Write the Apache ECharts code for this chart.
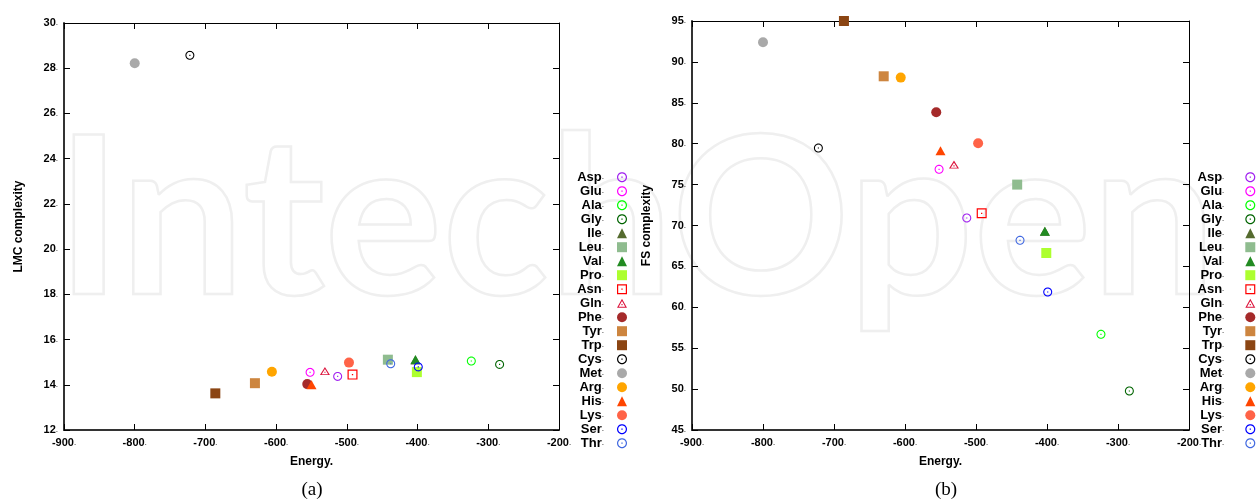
<!DOCTYPE html>
<html><head><meta charset="utf-8">
<script src="https://cdn.jsdelivr.net/npm/echarts@6/dist/echarts.min.js"></script>
<style>html,body{margin:0;padding:0;background:#fff}#c{width:1256px;height:502px}</style>
</head><body><div id="c"></div>
<script>
// ---------- data ----------
const names  = ['Asp','Glu','Ala','Gly','Ile','Leu','Val','Pro','Asn','Gln','Phe','Tyr','Trp','Cys','Met','Arg','His','Lys','Ser','Thr'];
const energy = [-513,-552,-324,-284,-403,-442,-403,-401,-492,-531,-556,-630,-686,-722,-800,-606,-550,-497,-399,-438];
const lmc    = [14.37,14.55,15.05,14.90,15.10,15.11,15.12,14.56,14.45,14.61,14.03,14.07,13.62,28.57,28.22,14.58,14.00,14.98,14.79,14.93];
const fs     = [70.92,76.87,56.70,49.77,69.30,75.00,69.29,66.64,71.49,77.45,83.84,88.24,95.00,79.47,92.40,88.08,79.15,80.05,61.87,68.19];
const xRange = [-900,-200,100];
const lmcRange = [12,30,2];
const fsRange = [45,95,5];

// ---------- styles ----------
const colors = ['#a020f0','#ff00ff','#00ff00','#006400','#556b2f','#8fbc8f','#228b22','#adff2f','#ff0000','#dc143c','#a52a2a','#cd853f','#8b4513','#000000','#a9a9a9','#ffa500','#ff4500','#ff6347','#0000ff','#4169e1'];
const kinds  = ['ring','ring','ring','ring','tri','sq','tri','sq','sqdot','tridot','circ','sq','sq','ring','circ','circ','tri','circ','ring','ring'];

function poly(pts){ return 'M' + pts.map(p => p[0].toFixed(2) + ',' + p[1].toFixed(2)).join('L') + 'Z'; }
function circ(cx, cy, r, n, rev){ const a=[]; for(let i=0;i<n;i++){ const t=(rev?-1:1)*i/n*2*Math.PI; a.push([cx+r*Math.cos(t), cy+r*Math.sin(t)]); } return a; }
const dotSq = poly([[8.7,8.7],[11.3,8.7],[11.3,11.3],[8.7,11.3]]);
const ringPath = 'path://' + poly(circ(10,10,10,36,false)) + poly(circ(10,10,7.6,36,true)) + dotSq;
const sqPath   = 'path://' + poly([[0,0],[20,0],[20,20],[0,20]]) + poly([[2.4,2.4],[2.4,17.6],[17.6,17.6],[17.6,2.4]]) + dotSq;
const triPath  = 'path://' + poly([[10,0],[20,18],[0,18]]) + poly([[10,4.8],[3.6,16.2],[16.4,16.2]]) + poly([[8.8,10.8],[11.2,10.8],[11.2,13.2],[8.8,13.2]]);
const symbolOf = { ring: ringPath, sqdot: sqPath, tridot: triPath, tri: 'triangle', sq: 'rect', circ: 'circle' };
const sizeOf   = { ring: 9, sqdot: 10, tridot: [10,8], tri: [10,9], sq: 10, circ: 10 };

const FONT = '"Liberation Sans", Arial, sans-serif';
const dotRich = { d: { fontSize: 8, color: '#777', fontFamily: FONT, fontWeight: 'bold', lineHeight: 12 } };
const labelFmt = v => v + '{d|.}';

function bottomX(grid){
  return { type:'value', gridIndex:grid, position:'bottom', min:xRange[0], max:xRange[1], interval:xRange[2],
    name:'Energy.', nameLocation:'middle', nameGap:26,
    nameTextStyle:{ fontFamily:FONT, fontWeight:'bold', fontSize:12, color:'#000' },
    axisLine:{ show:true, onZero:false, lineStyle:{ color:'#333', width:2 } },
    axisTick:{ show:true, inside:true, length:6, lineStyle:{ color:'#000', width:1 } },
    axisLabel:{ margin:7, fontFamily:FONT, fontWeight:'bold', fontSize:11, color:'#000', formatter:labelFmt, rich:dotRich },
    splitLine:{ show:false } };
}
function topX(grid){
  return { type:'value', gridIndex:grid, position:'top', min:xRange[0], max:xRange[1], interval:xRange[2],
    axisLine:{ show:true, onZero:false, lineStyle:{ color:'#000', width:1 } },
    axisTick:{ show:true, inside:true, length:6, lineStyle:{ color:'#000', width:1 } },
    axisLabel:{ show:false }, splitLine:{ show:false } };
}
function leftY(grid, r, nm){
  return { type:'value', gridIndex:grid, position:'left', min:r[0], max:r[1], interval:r[2],
    name:nm, nameLocation:'middle', nameGap:39, nameRotate:90,
    nameTextStyle:{ fontFamily:FONT, fontWeight:'bold', fontSize:12, color:'#000' },
    axisLine:{ show:true, onZero:false, lineStyle:{ color:'#333', width:2 } },
    axisTick:{ show:true, inside:true, length:6, lineStyle:{ color:'#000', width:1 } },
    axisLabel:{ margin:6, fontFamily:FONT, fontWeight:'bold', fontSize:11, color:'#000', formatter:labelFmt, rich:dotRich },
    splitLine:{ show:false } };
}
function rightY(grid, r){
  return { type:'value', gridIndex:grid, position:'right', min:r[0], max:r[1], interval:r[2],
    axisLine:{ show:true, onZero:false, lineStyle:{ color:'#000', width:1 } },
    axisTick:{ show:true, inside:true, length:6, lineStyle:{ color:'#000', width:1 } },
    axisLabel:{ show:false }, splitLine:{ show:false } };
}

const series = [];
names.forEach((n, i) => {
  const base = { type:'scatter', name:n, symbol:symbolOf[kinds[i]], symbolSize:sizeOf[kinds[i]],
    itemStyle:{ color:colors[i], opacity:1 }, emphasis:{ disabled:true }, animation:false };
  series.push(Object.assign({}, base, { xAxisIndex:0, yAxisIndex:0, data:[[energy[i], lmc[i]]] }));
  series.push(Object.assign({}, base, { xAxisIndex:2, yAxisIndex:2, data:[[energy[i], fs[i]]] }));
});

function legendAt(right, padRight){
  return { orient:'vertical', align:'right', right:right, top:170.7, padding:0,
    itemWidth:10, itemHeight:10, itemGap:1, selectedMode:false, data:names,
    formatter: n => n + '{d|.}',
    textStyle:{ fontFamily:FONT, fontWeight:'bold', fontSize:13, color:'#000', lineHeight:12, padding:[0,padRight,0,0], rich:dotRich } };
}

const chart = echarts.init(document.getElementById('c'), null, { renderer:'canvas' });
chart.setOption({
  backgroundColor:'#fff',
  animation:false,
  grid:[ { left:64, top:23, width:495, height:407 }, { left:692, top:21, width:497, height:409 } ],
  xAxis:[ bottomX(0), topX(0), bottomX(1), topX(1) ],
  yAxis:[ leftY(0, lmcRange, 'LMC complexity'), rightY(0, lmcRange), leftY(1, fsRange, 'FS complexity'), rightY(1, fsRange) ],
  legend:[ legendAt(629, 8), legendAt(0.7, 16) ],
  graphic:[
    { type:'text', z:-10, silent:true, x:56, y:112,
      style:{ text:'IntechOpen', font:'bold 221px Lato, sans-serif', fill:'none', stroke:'#efefef', lineWidth:2.5, verticalAlign:'top' } },
    { type:'text', x:312, y:490, style:{ text:'(a)', font:'19px "Liberation Serif", serif', fill:'#000', align:'center', verticalAlign:'middle' } },
    { type:'text', x:946, y:490, style:{ text:'(b)', font:'19px "Liberation Serif", serif', fill:'#000', align:'center', verticalAlign:'middle' } }
  ],
  series: series
});
</script>
</body></html>
